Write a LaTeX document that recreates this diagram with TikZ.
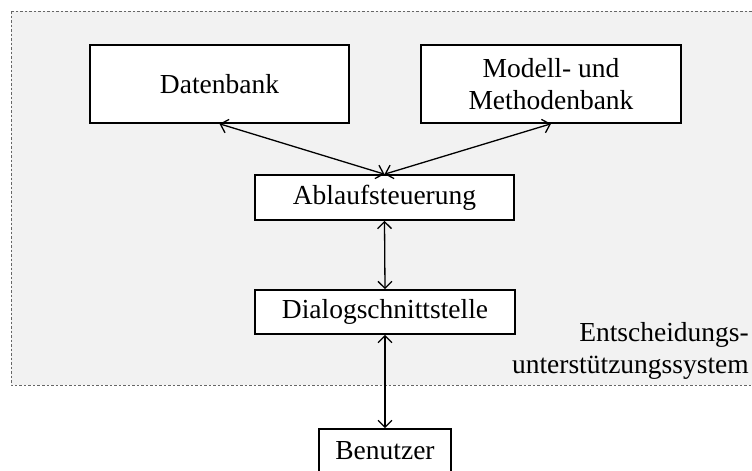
\documentclass[tikz,border=0pt]{standalone}
\usepackage{fontspec}
\setmainfont{Liberation Serif}
\usetikzlibrary{arrows.meta}
\begin{document}
\begin{tikzpicture}[x=1pt,y=-1pt,
  box/.style={draw=black, line width=1.6pt, fill=white, inner sep=0pt,
    align=center, font=\fontsize{27.5}{32}\selectfont},
  link/.style={line width=1.3pt, {Straight Barb[length=7pt,width=14pt]}-{Straight Barb[length=7pt,width=14pt]}},
  region/.style={fill=black!5, draw=black!60, line width=0.8pt, dash pattern=on 2.5pt off 2pt}]
  \useasboundingbox (0,0) rectangle (752,471);
  \clip (0,0) rectangle (752,471);
  % system boundary
  \draw[region] (11,11) rectangle (770,385);
  % components
  \node[box, minimum width=259pt, minimum height=78pt] (db) at (219.5,84) {Datenbank};
  \node[box, minimum width=260pt, minimum height=78pt] (mb) at (551,84) {Modell- und\\Methodenbank};
  \node[box, minimum width=259pt, minimum height=45pt] (abl) at (384.5,197.5) {Ablaufsteuerung};
  \node[box, minimum width=260pt, minimum height=44pt] (dia) at (385,312) {Dialogschnittstelle};
  \node[box, minimum width=132pt, minimum height=44pt] (ben) at (385,451) {Benutzer};
  % label of the system (base anchor sits on the last line)
  \node[align=right, anchor=base east, inner sep=0pt, font=\fontsize{27.5}{32}\selectfont] (lab) at (749,373) {Entscheidungs-\\unterstützungssystem};
  % connections
  \draw[link] (abl.north) -- (db.south);
  \draw[link] (abl.north) -- (mb.south);
  \draw[link] (abl.south) -- (dia.north);
  \draw[link] (dia.south) -- (ben.north);
\end{tikzpicture}
\end{document}
